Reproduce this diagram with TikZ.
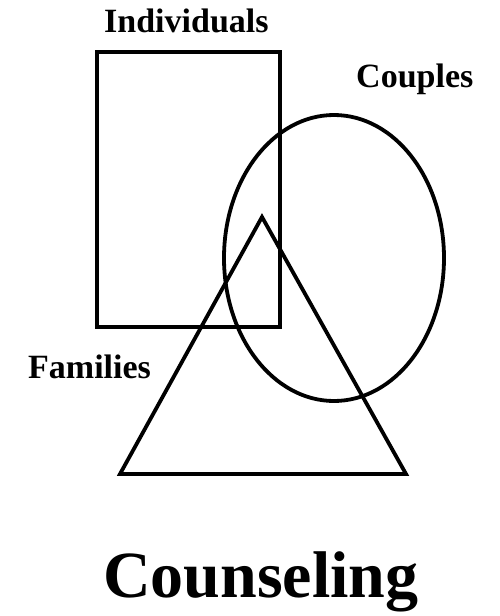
\documentclass[tikz,border=0pt]{standalone}
\usepackage{fontspec}
\setmainfont{Liberation Serif}
\usetikzlibrary{shapes.geometric}
\begin{document}
\begin{tikzpicture}[x=1pt,y=-1pt,
  shp/.style={draw=black,line width=3.8pt},
  lbl/.style={font=\fontsize{34}{40}\selectfont\bfseries,anchor=base west,inner sep=0pt}]
\useasboundingbox (0,0) rectangle (500,616);
\node[shp,rectangle,minimum width=183pt,minimum height=275pt,inner sep=0pt] (rect) at (188.5,189.5) {};
\node[shp,ellipse,minimum width=220pt,minimum height=286pt,inner sep=0pt] (ell) at (334,258) {};
\coordinate (apex) at (262,217);
\coordinate (bl) at (120,474);
\coordinate (br) at (406,474);
\draw[line width=3.8pt,line join=miter] (apex) -- (bl) -- (br) -- cycle;
\node[lbl] (ind) at (104,32) {Individuals};
\node[lbl] (cou) at (356,87) {Couples};
\node[lbl] (fam) at (28,378) {Families};
\node[font=\fontsize{66}{72}\selectfont\bfseries,anchor=base west,inner sep=0pt] (cns) at (103,597) {Counseling};
\end{tikzpicture}
\end{document}
